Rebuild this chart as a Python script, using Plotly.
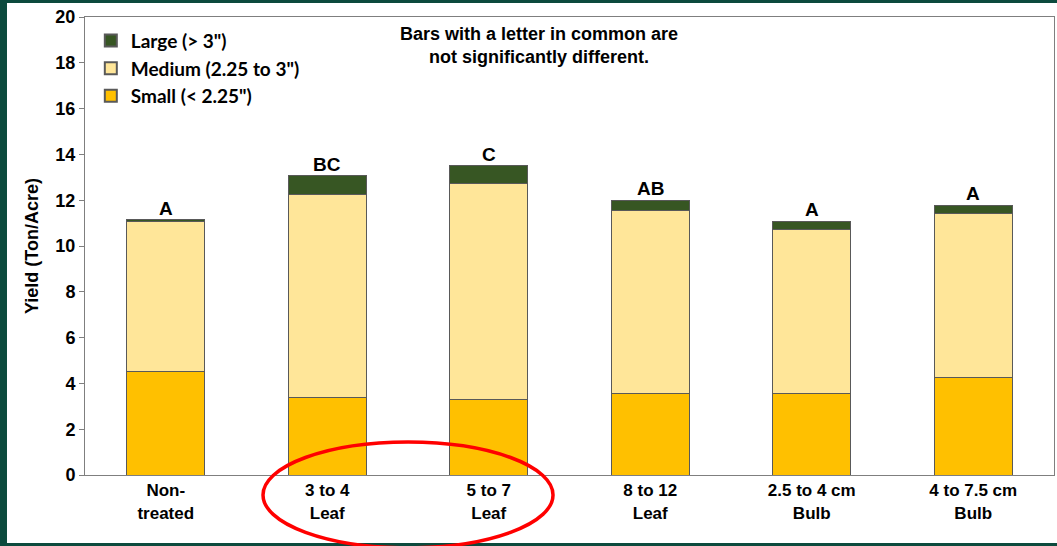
import plotly.graph_objects as go

categories = ["Non-<br>treated", "3 to 4<br>Leaf", "5 to 7<br>Leaf", "8 to 12<br>Leaf",
              "2.5 to 4 cm<br>Bulb", "4 to 7.5 cm<br>Bulb"]
small = [4.54, 3.40, 3.28, 3.54, 3.58, 4.24]
medium = [6.51, 8.87, 9.47, 8.03, 7.16, 7.16]
large = [0.09, 0.79, 0.75, 0.43, 0.35, 0.39]
letters = ["A", "BC", "C", "AB", "A", "A"]
y_ticks = [0, 2, 4, 6, 8, 10, 12, 14, 16, 18, 20]

FONT = "Liberation Sans, Arial, sans-serif"
GREEN = "#0c4a3d"
fig = go.Figure()
line = dict(color="#595959", width=1)
fig.add_bar(x=categories, y=small, name="Small (< 2.25\")", marker=dict(color="#FFC000", line=line))
fig.add_bar(x=categories, y=medium, name="Medium (2.25 to 3\")", marker=dict(color="#FFE699", line=line))
fig.add_bar(x=categories, y=large, name="Large (> 3\")", marker=dict(color="#375623", line=line))

totals = [s + m + l for s, m, l in zip(small, medium, large)]
for c, t, L in zip(categories, totals, letters):
    fig.add_annotation(x=c, y=t, text=L, showarrow=False, yanchor="bottom",
                       yshift=-1, font=dict(family=FONT, size=19, color="black", weight=700))

fig.add_annotation(xref="paper", yref="paper", x=0.469, y=1.0, yanchor="top", xanchor="center",
                   yshift=-5,
                   text="Bars with a letter in common are<br>not significantly different.",
                   showarrow=False, font=dict(family=FONT, size=18, color="black", weight=700))

# frame strips (left, top, bottom) in paper coords; right margin kept white
shapes = [
    dict(type="rect", xref="paper", yref="paper", x0=-0.1, x1=-0.0805, y0=-0.2, y1=1.1,
         fillcolor=GREEN, line=dict(width=0), layer="below"),
    dict(type="rect", xref="paper", yref="paper", x0=-0.1, x1=1.1, y0=1.0306, y1=1.1,
         fillcolor=GREEN, line=dict(width=0), layer="below"),
    dict(type="rect", xref="paper", yref="paper", x0=-0.1, x1=1.1, y0=-0.2, y1=-0.1485,
         fillcolor=GREEN, line=dict(width=0), layer="below"),
    dict(type="rect", xref="paper", yref="paper", x0=1.0015, x1=1.1, y0=-0.1485, y1=1.0306,
         fillcolor="white", line=dict(width=0), layer="above"),
    dict(type="circle", xref="paper", yref="paper", x0=0.1837, x1=0.483, y0=-0.159, y1=0.072,
         line=dict(color="#ff0000", width=3.5), layer="above"),
]

fig.update_layout(
    width=1057, height=546,
    margin=dict(l=85, r=3, t=17, b=71, autoexpand=False),
    barmode="stack", bargap=0.52,
    paper_bgcolor="white", plot_bgcolor="white",
    shapes=shapes,
    showlegend=True,
    legend=dict(x=0.006, y=0.99, xanchor="left", yanchor="top", traceorder="reversed",
                font=dict(family="Lato, sans-serif", size=19, color="black", weight=700),
                bgcolor="rgba(0,0,0,0)", itemsizing="constant", tracegroupgap=0,
                itemwidth=30),
    font=dict(family=FONT, color="black"),
)
fig.update_xaxes(showgrid=False, showline=True, linecolor="#7f7f7f", mirror=True, automargin=False,
                 ticks="", tickfont=dict(family=FONT, size=17, color="black", weight=700))
fig.update_yaxes(range=[0, 20], tickvals=y_ticks, showgrid=False, showline=True, automargin=False,
                 linecolor="#7f7f7f", mirror=True, ticks="outside", ticklen=5, tickcolor="#7f7f7f",
                 tickfont=dict(family=FONT, size=18, color="black", weight=700), zeroline=False,
                 title=dict(text="Yield (Ton/Acre)",
                            font=dict(family=FONT, size=18, color="black", weight=700),
                            standoff=12))

fig.write_html("out.html", config={"displayModeBar": False},
               post_script="document.body.style.margin='0';document.body.style.overflow='hidden';"
                           "document.documentElement.style.overflow='hidden';")
